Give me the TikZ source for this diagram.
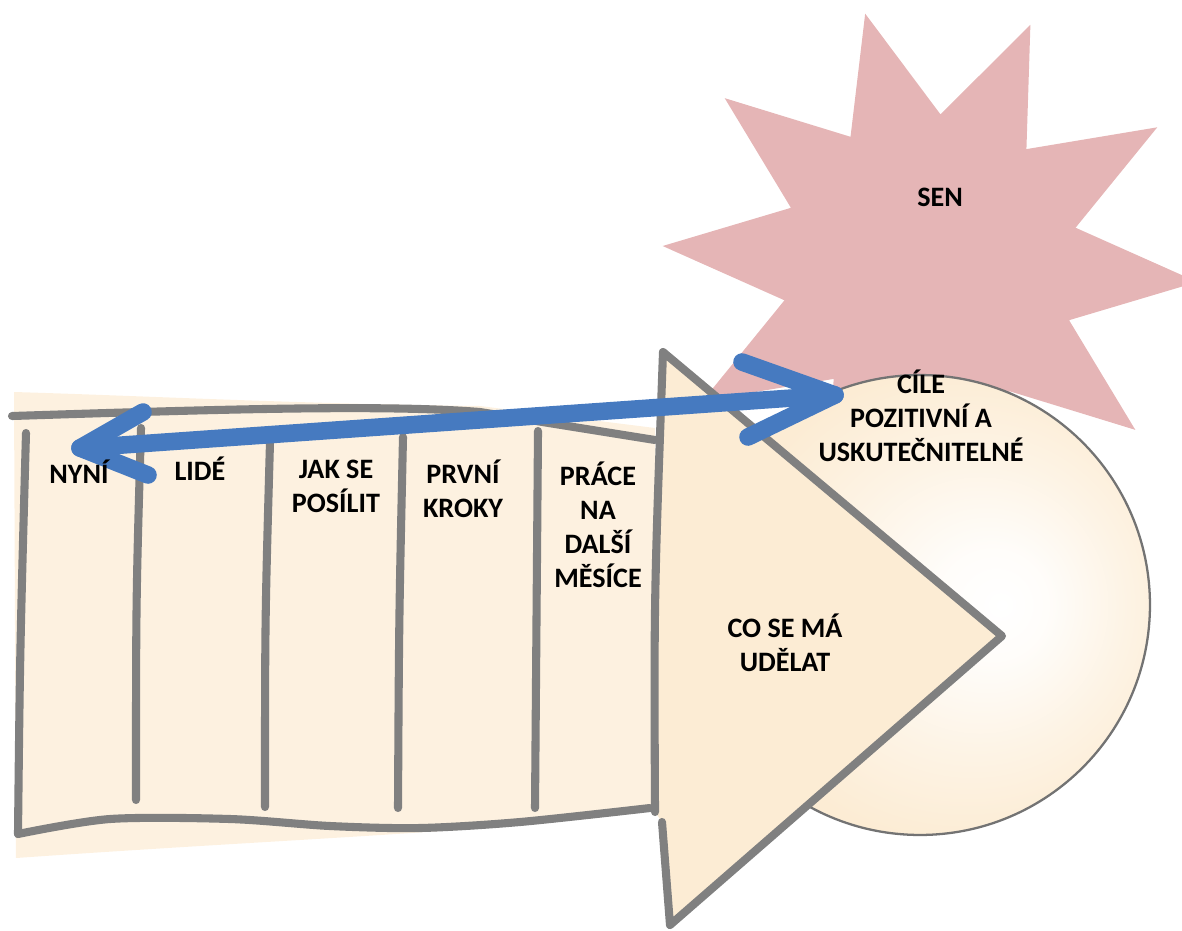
\documentclass[tikz,border=0pt]{standalone}
\usepackage{fontspec}
\setmainfont{Carlito}
\definecolor{linegray}{RGB}{128,128,128}
\definecolor{circlegray}{RGB}{115,115,115}
\definecolor{arrowblue}{RGB}{70,122,192}
\definecolor{starpink}{RGB}{229,181,182}
\definecolor{beige}{RGB}{252,236,212}
\definecolor{beigeband}{RGB}{253,241,224}
\pgfdeclareradialshading{glow}{\pgfpoint{9bp}{0bp}}{color(0bp)=(white); color(6bp)=(beige!12!white); color(16bp)=(beige!60!white); color(26bp)=(beige); color(50bp)=(beige)}
\begin{document}
\begin{tikzpicture}[x=0.02cm,y=-0.02cm,
  tableline/.style={draw=linegray, line width=4.6pt, line cap=round, line join=round},
  bluestroke/.style={draw=arrowblue, line width=10pt, line cap=round, line join=round},
  lbl/.style={font=\bfseries\fontsize{16}{19.3}\selectfont, align=center, text=black, inner sep=0pt, anchor=base}]
\useasboundingbox (0,0) rectangle (1182,930);
\clip (0,0) rectangle (1182,930);

% beige band behind the table
\fill[beigeband] (14,392) .. controls (150,396) and (300,404) .. (480,406)
  -- (655,428) -- (658,810) .. controls (500,832) and (300,838) .. (16,858) -- cycle;

% table lines
\draw[tableline] (12,416) .. controls (200,410) and (380,404) .. (480,412) -- (655,440);
\draw[tableline] (26,433) .. controls (20,650) .. (18,834);
\draw[tableline] plot[smooth] coordinates {(18,834) (110,819) (230,819) (330,826) (420,828) (520,822) (650,808)};
\draw[tableline] (141,428) .. controls (136,600) .. (136,800);
\draw[tableline] (270,442) .. controls (265,620) .. (265,807);
\draw[tableline] (403,437) .. controls (399,620) .. (398,808);
\draw[tableline] (538,431) .. controls (536,620) .. (535,808);

% star (SEN)
\fill[starpink] ({930+268*cos(-104)},{264+258*sin(-104)})
  \foreach \k in {0,...,9} {
    -- ({930+150*cos(-86+36*\k)},{264+150*sin(-86+36*\k)})
    -- ({930+268*cos(-68+36*\k)},{264+258*sin(-68+36*\k)})
  } -- cycle;

% goal circle
\coordinate (goal) at (920,605);
\shade[shading=glow] (goal) circle[radius=4.6cm];
\draw[circlegray, line width=1.3pt] (goal) circle[radius=4.6cm];

% big arrow (triangle)
\fill[beige] (663,352) -- (1002,636) -- (670,925) -- (662,822) -- (655,812) .. controls (654,600) .. (663,352) -- cycle;
\draw[tableline] (655,812) .. controls (654,600) .. (663,352) -- (1002,636) -- (670,925) -- (662,822);

% blue double arrow
\coordinate (now) at (80,448);
\coordinate (goaltip) at (835,395);
\coordinate (la) at (143,412);
\coordinate (lb) at (148,475);
\coordinate (ra) at (742,362);
\coordinate (rb) at (748,437);
\draw[bluestroke] (now) -- (goaltip);
\draw[bluestroke] (la) -- (now) -- (lb);
\draw[bluestroke] (ra) -- (goaltip) -- (rb);

% labels (anchor=base sits on the last line's baseline)
\node[lbl] (nyni) at (79,483) {NYNÍ};
\node[lbl] (lide) at (200,480) {LIDÉ};
\node[lbl] (jak) at (336,512) {JAK SE\\POSÍLIT};
\node[lbl] (prvni) at (463,517) {PRVNÍ\\KROKY};
\node[lbl] (prace) at (598,587) {PRÁCE\\NA\\DALŠÍ\\MĚSÍCE};
\node[lbl] (co) at (785,671) {CO SE MÁ\\UDĚLAT};
\node[lbl] (cile) at (921,461) {CÍLE\\POZITIVNÍ A\\USKUTEČNITELNÉ};
\node[lbl] (sen) at (940,206) {SEN};
\end{tikzpicture}
\end{document}
